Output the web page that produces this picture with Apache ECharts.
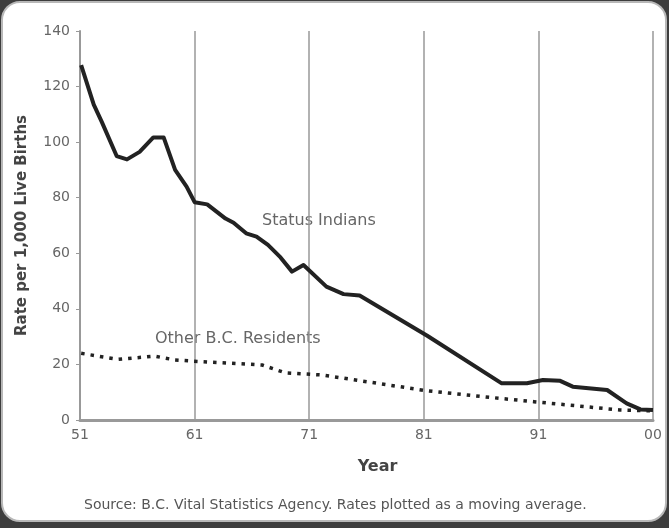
<!DOCTYPE html>
<html>
<head>
<meta charset="utf-8">
<script src="https://cdn.jsdelivr.net/npm/echarts@6/dist/echarts.min.js"></script>
<style>
  html, body { margin: 0; padding: 0; background: #3d3d3d; }
  #chart { width: 669px; height: 528px; }
</style>
</head>
<body>
<div id="chart"></div>
<script>
// x tick labels (two-digit years)
var tickLabels = ["51", "61", "71", "81", "91", "00"];

// Status Indians
var indianYears = [1951.1, 1952.2, 1952.9, 1954.2, 1955.1, 1956.2, 1957.4, 1958.3, 1959.3, 1960.3,
  1961.0, 1962.1, 1963.7, 1964.4, 1965.5, 1966.4, 1967.4, 1968.5, 1969.5, 1970.5,
  1972.5, 1974.0, 1975.4, 1981.3, 1987.8, 1990.0, 1991.4, 1992.9, 1994.0, 1997.0,
  1998.7, 1999.9, 2001.0];
var indianRates = [127.7, 113.5, 107.3, 95, 93.8, 96.5, 101.7, 101.7, 90, 84,
  78.4, 77.6, 72.5, 71, 67.2, 66, 63, 58.5, 53.4, 55.8,
  48, 45.3, 44.8, 30.3, 13.2, 13.2, 14.4, 14.1, 12, 10.8,
  6, 3.8, 3.6];

// Other B.C. Residents
var otherYears = [1951.1, 1954.3, 1957.5, 1959.3, 1961.6, 1966.9, 1968.9, 1972.1, 1973.1,
  1981.3, 1987.6, 1990.6, 1998.1, 2001.0];
var otherRates = [24, 21.8, 23, 21.6, 21, 19.8, 17, 16.2, 15.6,
  10.5, 7.8, 6.6, 3.6, 3.3];

var pairs = function (xs, ys) {
  return xs.map(function (x, i) { return [x, ys[i]]; });
};

var myChart = echarts.init(document.getElementById("chart"));
var option = {
  animation: false,
  backgroundColor: "#3d3d3d",
  textStyle: { fontFamily: "DejaVu Sans" },
  graphic: [
    {
      type: "rect",
      z: -10,
      shape: { x: 2, y: 2, width: 664, height: 519, r: 18 },
      style: { fill: "#ffffff", stroke: "#b8b8b8", lineWidth: 2 }
    },
    {
      type: "text",
      left: 262, top: 213,
      style: { text: "Status Indians", fill: "#666", font: "16px 'DejaVu Sans'" }
    },
    {
      type: "text",
      left: 155, top: 331,
      style: { text: "Other B.C. Residents", fill: "#666", font: "16px 'DejaVu Sans'" }
    },
    {
      type: "text",
      left: 84, top: 498,
      style: {
        text: "Source: B.C. Vital Statistics Agency. Rates plotted as a moving average.",
        fill: "#555", font: "14px 'DejaVu Sans'"
      }
    }
  ],
  grid: { left: 80, right: 16, top: 31, bottom: 108 },
  xAxis: {
    type: "value",
    min: 1951,
    max: 2001,
    interval: 10,
    name: "Year",
    nameLocation: "middle",
    nameGap: 39,
    nameTextStyle: { fontWeight: "bold", fontSize: 16, color: "#444", padding: [0, 0, 0, 22] },
    axisLine: { lineStyle: { color: "#999", width: 3 } },
    axisTick: { show: false },
    axisLabel: {
      color: "#666", fontSize: 14, margin: 8,
      formatter: function (v) { return tickLabels[Math.round((v - 1951) / 10)]; }
    },
    splitLine: { show: true, lineStyle: { color: "#999", width: 1.5 } }
  },
  yAxis: {
    type: "value",
    min: 0,
    max: 140,
    interval: 20,
    name: "Rate per 1,000 Live Births",
    nameLocation: "middle",
    nameGap: 50,
    nameTextStyle: { fontWeight: "bold", fontSize: 15, color: "#444" },
    axisLine: { show: true, lineStyle: { color: "#999", width: 2 } },
    axisTick: { show: true, length: 4, lineStyle: { color: "#999" } },
    axisLabel: { color: "#666", fontSize: 14, margin: 10 },
    splitLine: { show: false }
  },
  series: [
    {
      name: "Status Indians",
      type: "line",
      data: pairs(indianYears, indianRates),
      showSymbol: false,
      symbol: "none",
      lineStyle: { color: "#222", width: 4, join: "round" }
    },
    {
      name: "Other B.C. Residents",
      type: "line",
      data: pairs(otherYears, otherRates),
      showSymbol: false,
      symbol: "none",
      lineStyle: { color: "#222", width: 3.5, type: [3.5, 6], cap: "butt" }
    }
  ]
};
myChart.setOption(option);
</script>
</body>
</html>
